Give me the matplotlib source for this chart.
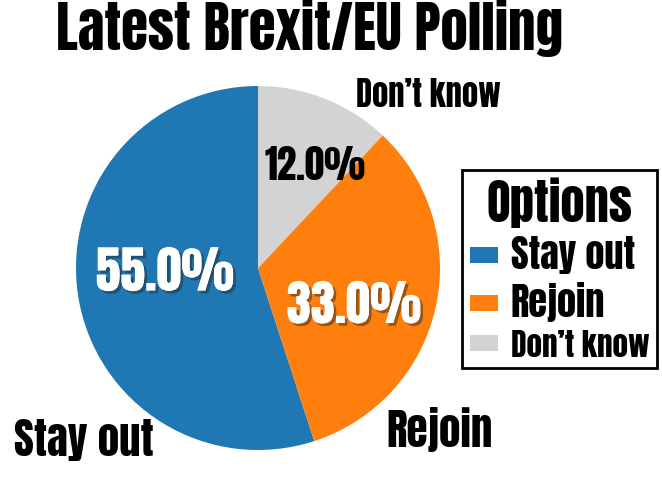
import matplotlib
matplotlib.use("Agg")
import matplotlib.pyplot as plt
import matplotlib.patheffects as pe
from matplotlib.patches import Patch

categories = ["Stay out", "Rejoin", "Don\u2019t know"]
shares = [55.0, 33.0, 12.0]
colors = ["#1f77b4", "#ff7f0e", "#d3d3d3"]

FONT = ["Anton", "DejaVu Sans"]
W, H = 662, 490

fig = plt.figure(figsize=(W / 100, H / 100), dpi=100)
ax = fig.add_axes([0, 0, 1, 1])

wedges, texts, autotexts = ax.pie(
    shares, colors=colors, startangle=90, counterclock=True,
    center=(258, H - 268), radius=182, autopct="%1.1f%%", pctdistance=0.55,
    wedgeprops=dict(linewidth=0),
)
ax.set_xlim(0, W)
ax.set_ylim(0, H)
ax.set_aspect("equal")
ax.axis("off")

# percentage labels, nudged to where the reference has them
pct_pos = [(165, 272), (354, 305), (315, 165)]
pct_size = [36, 35, 28]
shadow = [pe.withSimplePatchShadow(offset=(2, -2), shadow_rgbFace="#202020", alpha=0.45),
          pe.Normal()]
for t, (x, y), fs, c in zip(autotexts, pct_pos, pct_size, ["white", "white", "black"]):
    t.set_position((x, H - y))
    t.set_ha("center")
    t.set_va("center")
    t.set_family(FONT)
    t.set_fontsize(fs)
    t.set_color(c)
    if c == "white":
        t.set_path_effects(shadow)

# outer labels
lab_pos = [(84, 440, 31), (439, 429, 31), (428, 95, 23.5)]
for name, (x, y, fs) in zip(categories, lab_pos):
    ax.text(x, H - y, name, ha="center", va="center", fontsize=fs, family=FONT)

ax.text(310, H - 28, "Latest Brexit/EU Polling", ha="center", va="center",
        fontsize=39.5, family=FONT)

handles = [Patch(facecolor=c, edgecolor="none") for c in colors]
leg = ax.legend(handles, categories, title="Options", loc="upper left",
                bbox_to_anchor=(462 / W, 1 - 170 / H), frameon=True, fancybox=False,
                prop=dict(family=FONT, size=28),
                title_fontproperties=dict(family=FONT, size=35),
                handlelength=0.72, handleheight=0.26, handletextpad=0.33,
                labelspacing=0.2, borderpad=0.2, borderaxespad=0)
for t, fs in zip(leg.get_texts(), [27.5, 27.5, 22.5]):
    t.set_fontsize(fs)
leg.get_frame().set_edgecolor("black")
leg.get_frame().set_linewidth(2)
leg.get_frame().set_alpha(1)

fig.savefig("out.png", dpi=100)
